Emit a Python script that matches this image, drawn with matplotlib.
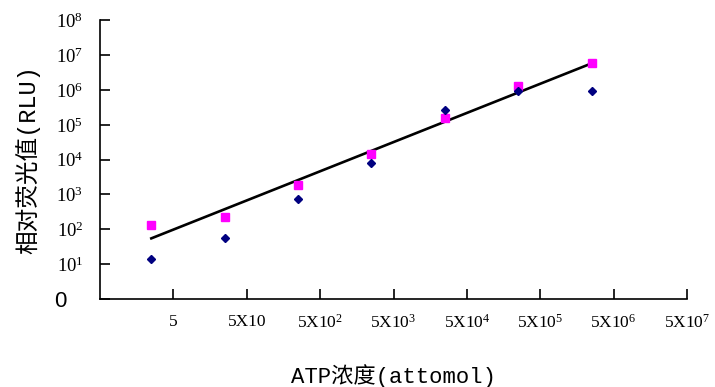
import matplotlib
matplotlib.use("Agg")
import matplotlib.pyplot as plt
from matplotlib.ticker import FixedLocator, FixedFormatter, NullLocator
from matplotlib.transforms import ScaledTranslation

# Dados
atp_conc = [2.5, 25, 250, 2.5e3, 2.5e4, 2.5e5, 2.5e6]
rlu_square = [133, 221, 1830, 14200, 157000, 1.30e6, 6.06e6]
rlu_diamond = [14, 57, 727, 7850, 271000, 933000, 933000]
trend_x = [2.5, 2.5e6]
trend_rlu = [55, 5.8e6]

x_ticks = [5, 50, 500, 5e3, 5e4, 5e5, 5e6, 5e7]
x_labels = ["5", "5X10", "5X10$^{2}$", "5X10$^{3}$", "5X10$^{4}$",
            "5X10$^{5}$", "5X10$^{6}$", "5X10$^{7}$"]
y_ticks = [1e0, 1e1, 1e2, 1e3, 1e4, 1e5, 1e6, 1e7, 1e8]
y_labels = ["0"] + ["10$^{%d}$" % k for k in range(1, 9)]

plt.rcParams["mathtext.fontset"] = "custom"
plt.rcParams["mathtext.rm"] = "Liberation Serif"
plt.rcParams["mathtext.default"] = "rm"

fig = plt.figure(figsize=(7.15, 3.87), dpi=100)
ax = fig.add_axes([0.1399, 0.2274, 0.8209, 0.7201])

ax.plot(trend_x, trend_rlu, color="black", linewidth=1.9, zorder=2)
ax.plot(atp_conc, rlu_square, linestyle="none", marker="s", markersize=5.6,
        color="#ff00ff", zorder=3)
ax.plot(atp_conc, rlu_diamond, linestyle="none", marker="D", markersize=4.2,
        color="#000080", zorder=3)

ax.set_xscale("log")
ax.set_yscale("log")
ax.set_xlim(0.5, 5e7)
ax.set_ylim(1, 1e8)

ax.xaxis.set_major_locator(FixedLocator(x_ticks))
ax.xaxis.set_major_formatter(FixedFormatter(x_labels))
ax.yaxis.set_major_locator(FixedLocator(y_ticks))
ax.yaxis.set_major_formatter(FixedFormatter(y_labels))
ax.xaxis.set_minor_locator(NullLocator())
ax.yaxis.set_minor_locator(NullLocator())

ax.spines["top"].set_visible(False)
ax.spines["right"].set_visible(False)
for s in ("left", "bottom"):
    ax.spines[s].set_linewidth(1.2)

ax.tick_params(axis="both", direction="in", length=7, width=1.2)
ax.tick_params(axis="x", pad=11, labelsize=12.5)
ax.tick_params(axis="y", pad=12, labelsize=13.5)
for lab in ax.get_xticklabels() + ax.get_yticklabels():
    lab.set_family("Liberation Serif")

# o "0" fica mais à esquerda e maior
zero_lab = ax.get_yticklabels()[0]
zero_lab.set_fontsize(16)
zero_lab.set_family("Liberation Sans")
zero_lab.set_transform(zero_lab.get_transform()
                       + ScaledTranslation(-12 / 72, 0, fig.dpi_scale_trans))

cjk = ["Liberation Mono", "Noto Sans CJK SC"]
ax.set_xlabel("ATP浓度(attomol)", family=cjk, fontsize=16, labelpad=23)
ax.set_ylabel("相对荧光值(RLU)", family=cjk, fontsize=17, labelpad=10)

fig.savefig("out.png", dpi=100)
